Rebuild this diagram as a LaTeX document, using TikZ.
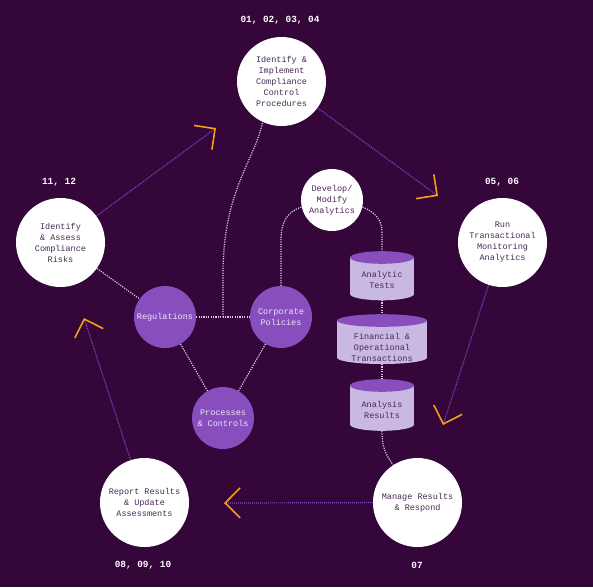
\documentclass[tikz,border=0pt]{standalone}
\usepackage{fontspec}
\setmonofont{Liberation Mono}
\usetikzlibrary{arrows.meta}
\definecolor{bg}{RGB}{52,6,58}
\definecolor{pur}{RGB}{136,78,190}
\definecolor{cylbody}{RGB}{202,184,228}
\definecolor{ink}{RGB}{72,42,84}
\definecolor{lighttext}{RGB}{238,230,246}
\definecolor{flowc}{RGB}{124,70,188}
\definecolor{linkc}{RGB}{214,200,228}
\definecolor{orng}{RGB}{240,160,20}
\begin{document}
\begin{tikzpicture}[x=1pt,y=-1pt,
  font=\ttfamily\fontsize{8.5}{11}\selectfont,
  bigc/.style={circle,fill=white,minimum size=89pt,inner sep=0pt,align=center,text=ink},
  devc/.style={circle,fill=white,minimum size=62pt,inner sep=0pt,align=center,text=ink},
  purc/.style={circle,fill=pur,minimum size=62pt,inner sep=0pt,align=center,text=lighttext},
  lab/.style={text=white,font=\ttfamily\bfseries\fontsize{9.4}{11}\selectfont},
  cyltext/.style={align=center,text=ink,inner sep=0pt},
  flow/.style={draw=flowc,line width=1.2pt,dash pattern=on 1pt off 1pt,
    -{Straight Barb[length=15pt,width=30pt,line width=1.6pt,color=orng]}},
  link/.style={draw=linkc,line width=1.2pt,dash pattern=on 1.2pt off 1.2pt}]
\fill[bg] (0,0) rectangle (593,587);
\useasboundingbox (0,0) rectangle (593,587);

% cylinders
\newcommand{\mycyl}[5]{%
  \fill[cylbody] (#1-#4,#2) rectangle (#1+#4,#3);
  \fill[cylbody] (#1,#3) ellipse [x radius=#4, y radius=#5];
  \fill[pur] (#1,#2) ellipse [x radius=#4, y radius=#5];}

% main nodes
\node[bigc] (topc) at (281.5,81.5) {Identify \&\\Implement\\Compliance\\Control\\Procedures};
\node[bigc] (leftc) at (60.5,242.5) {Identify\\\& Assess\\Compliance\\Risks};
\node[bigc] (rightc) at (502.5,242.5) {Run\\Transactional\\Monitoring\\Analytics};
\node[bigc] (blc) at (144.5,502.5) {Report Results\\\& Update\\Assessments};
\node[bigc] (brc) at (417.5,502.5) {Manage Results\\\& Respond};
\node[devc] (dev) at (332,200) {Develop/\\Modify\\Analytics};
\node[purc] (reg) at (165,317) {Regulations};
\node[purc] (corp) at (281,317) {Corporate\\Policies};
\node[purc] (proc) at (223,418) {Processes\\\& Controls};

% labels
\node[lab] (l1) at (280,20) {01, 02, 03, 04};
\node[lab] (l2) at (59,182) {11, 12};
\node[lab] (l3) at (502,182) {05, 06};
\node[lab] (l4) at (143,565) {08, 09, 10};
\node[lab] (l5) at (417,565) {07};

% coordinates
\coordinate (tipA) at (438,196);
\coordinate (tipB) at (443,425);
\coordinate (tipC) at (224,503);
\coordinate (tipD) at (84,318);
\coordinate (tipE) at (216,128);
\coordinate (junc) at (223,317);
\coordinate (att) at (382,252);
\coordinate (atb) at (382,300);
\coordinate (fint) at (382,314);
\coordinate (finb) at (382,364);
\coordinate (art) at (382,379);
\coordinate (arb) at (382,431);

% white dotted links
\draw[link] (leftc) -- (reg);
\draw[link] (reg) -- (corp);
\draw[link] (reg) -- (proc);
\draw[link] (corp) -- (proc);
\draw[link] (junc) -- (223,275) .. controls (223,190) and (255,160) .. (topc.-115);
\draw[link] (corp.north) -- (281,240) .. controls (281,220) and (289,211) .. (dev.-167);
\draw[link] (dev.-13) .. controls (375,212) and (382,220) .. (382,232) -- (att);
\draw[link] (atb) -- (fint);
\draw[link] (finb) -- (art);
\draw[link] (arb) .. controls (382,448) and (386,455) .. (brc.123);

% cylinders
\mycyl{382}{257.5}{294}{32}{6.3}
\mycyl{382}{320.5}{357.7}{45}{6.3}
\mycyl{382}{385.5}{424.5}{32}{6.3}
\node[cyltext] (at) at (382,280) {Analytic\\Tests};
\node[cyltext] (fin) at (382,347) {Financial \&\\Operational\\Transactions};
\node[cyltext] (ar) at (382,410) {Analysis\\Results};

% flow arrows
\draw[flow] (topc) -- (tipA);
\draw[flow] (rightc) -- (tipB);
\draw[flow] (brc) -- (tipC);
\draw[flow] (blc) -- (tipD);
\draw[flow] (leftc) -- (tipE);
\end{tikzpicture}
\end{document}
